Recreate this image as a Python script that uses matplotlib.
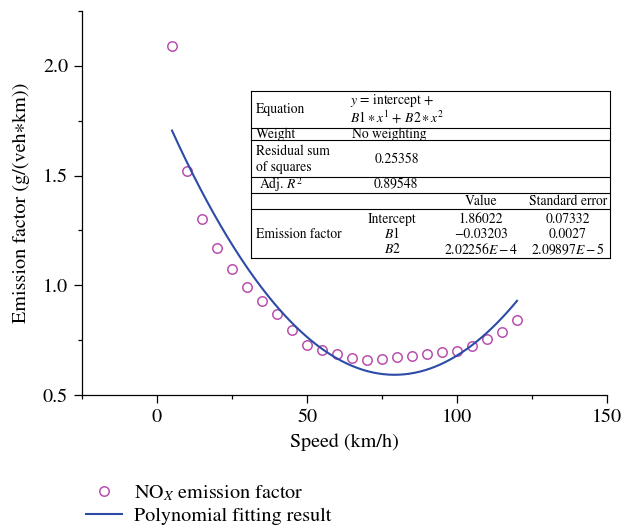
import numpy as np
import matplotlib
matplotlib.use("Agg")
import matplotlib.pyplot as plt
from matplotlib.lines import Line2D
from matplotlib.ticker import MultipleLocator

plt.rcParams["font.family"] = ["STIXGeneral", "DejaVu Serif"]
plt.rcParams["mathtext.fontset"] = "stix"

# measured NOx emission factor vs speed
speed = [5, 10, 15, 20, 25, 30, 35, 40, 45, 50, 55, 60,
         65, 70, 75, 80, 85, 90, 95, 100, 105, 110, 115, 120]
nox_ef = [2.090, 1.523, 1.303, 1.171, 1.074, 0.992, 0.927, 0.871,
          0.795, 0.727, 0.705, 0.686, 0.670, 0.658, 0.665, 0.671,
          0.680, 0.688, 0.694, 0.700, 0.723, 0.755, 0.786, 0.840]

# fit coefficients as printed in the table
intercept, b1, b2 = 1.86022, -0.03203, 2.02256e-4
se_intercept, se_b1, se_b2 = "0.07332", "0.0027", r"2.09897$E-5$"
rss, adj_r2 = "0.25358", "0.89548"

W, H = 623, 528
fig = plt.figure(figsize=(W / 100, H / 100), dpi=100)
ax = fig.add_axes([82 / W, 1 - 395 / H, (607 - 82) / W, (395 - 11) / H])

PINK = "#b94fae"
BLUE = "#2b4ba6"

xs = np.linspace(min(speed), max(speed), 200)
fit = intercept + b1 * xs + b2 * xs ** 2

pts, = ax.plot(speed, nox_ef, linestyle="none", marker="o", markersize=6.8,
               markerfacecolor="none", markeredgecolor=PINK, markeredgewidth=1.1,
               label=r"NO$_X$ emission factor")
ln, = ax.plot(xs, fit, color=BLUE, linewidth=1.5, label="Polynomial fitting result")

ax.set_xlim(-25, 150)
ax.set_ylim(0.5, 2.25)
ax.set_xticks([0, 50, 100, 150])
ax.set_yticks([0.5, 1.0, 1.5, 2.0])
ax.xaxis.set_minor_locator(MultipleLocator(25))
ax.yaxis.set_minor_locator(MultipleLocator(0.25))
ax.tick_params(which="major", direction="out", length=6, width=0.9, labelsize=14.5, pad=4)
ax.tick_params(which="minor", direction="out", length=3, width=0.9)
for side in ["top", "right"]:
    ax.spines[side].set_visible(False)
for side in ["left", "bottom"]:
    ax.spines[side].set_linewidth(0.9)

ax.set_xlabel("Speed (km/h)", fontsize=14.5, labelpad=5)
ax.set_ylabel("Emission factor (g/(veh\u2217km))", fontsize=14.5, labelpad=9)

fig.legend(handles=[pts, ln], loc="upper left",
           bbox_to_anchor=(78 / W, 1 - 475 / H), frameon=False, fontsize=14.5,
           handlelength=1.8, handletextpad=0.6, labelspacing=0.2, borderaxespad=0)

# fit summary table
def fx(px):
    return px / W

def fy(py):
    return 1 - py / H

tl, tr = 251, 610
rows = [91, 127.7, 140, 176.7, 193.3, 209, 258.3]
for r in rows:
    fig.add_artist(Line2D([fx(tl), fx(tr)], [fy(r), fy(r)], color="black", lw=0.8))
for c in [tl, tr]:
    fig.add_artist(Line2D([fx(c), fx(c)], [fy(rows[0]), fy(rows[-1])], color="black", lw=0.8))

ts = 9.8
def cell(px, py, s, ha="left"):
    fig.text(fx(px), fy(py), s, fontsize=ts, ha=ha, va="center")

cell(256, 109, "Equation")
cell(350, 100.5, r"$y$ = intercept +")
cell(350, 116.5, r"$B1\ast x^1$ + $B2\ast x^2$")
cell(256, 134, "Weight")
cell(352, 134, "No weighting")
cell(256, 151, "Residual sum")
cell(256, 167, "of squares")
cell(397, 159, rss, ha="center")
cell(259, 185, r"Adj. $R^2$")
cell(396, 185, adj_r2, ha="center")
cell(481, 201, "Value", ha="center")
cell(568, 201, "Standard error", ha="center")
cell(256, 234, "Emission factor")
cell(392, 219, "Intercept", ha="center")
cell(392, 234, r"$B1$", ha="center")
cell(392, 249, r"$B2$", ha="center")
cell(481, 219, f"{intercept:.5f}", ha="center")
cell(481, 234, f"{b1:.5f}".replace("-", "\u2212"), ha="center")
cell(481, 249, r"2.02256$E-4$", ha="center")
cell(568, 219, se_intercept, ha="center")
cell(568, 234, se_b1, ha="center")
cell(568, 249, se_b2, ha="center")

fig.savefig("out.png", dpi=100)
